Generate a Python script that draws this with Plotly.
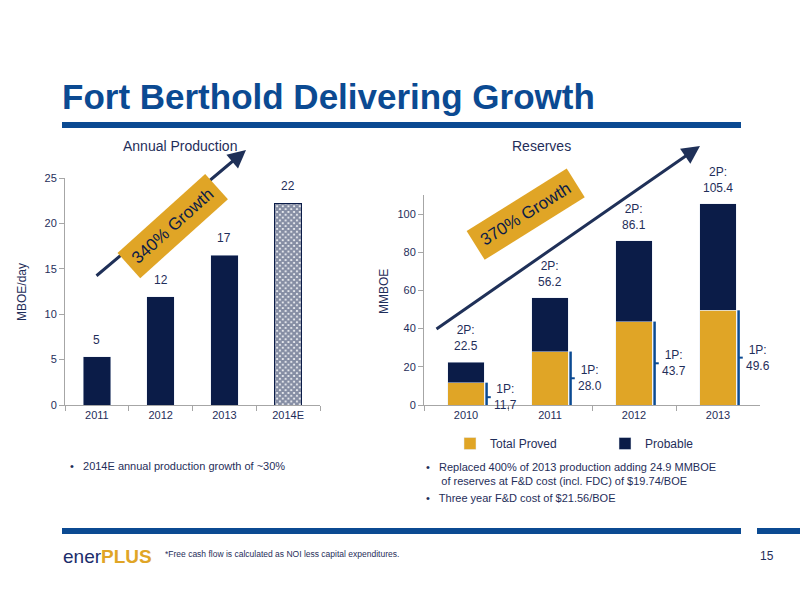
import plotly.graph_objects as go

prod_years = ["2011", "2012", "2013", "2014E"]
prod_values = [5.3, 11.9, 16.5, 22.2]
prod_labels = ["5", "12", "17", "22"]

res_years = ["2010", "2011", "2012", "2013"]
proved = [11.7, 28.0, 43.7, 49.6]
total_2p = [22.5, 56.2, 86.1, 105.4]
probable = [t - p for t, p in zip(total_2p, proved)]

NAVY = "#0B1C48"
GOLD = "#E0A526"
BLUE = "#0B4A92"
TXT = "#1F2E5A"
FONT = "Liberation Sans, Arial, sans-serif"

fig = go.Figure()
fig.add_trace(go.Bar(x=prod_years[:3], y=prod_values[:3], marker_color=NAVY, width=0.43,
                     showlegend=False, xaxis="x", yaxis="y"))
fig.add_trace(go.Bar(x=prod_years[3:], y=prod_values[3:], width=0.43, showlegend=False,
                     marker=dict(color="white", line=dict(color=NAVY, width=1),
                                 pattern=dict(shape="x", fgcolor=NAVY, bgcolor="white", size=4, solidity=0.8)),
                     xaxis="x", yaxis="y"))
fig.add_trace(go.Bar(x=res_years, y=proved, name="Total Proved", marker_color=GOLD, width=0.43,
                     xaxis="x2", yaxis="y2"))
fig.add_trace(go.Bar(x=res_years, y=probable, name="Probable", marker_color=NAVY, width=0.43,
                     xaxis="x2", yaxis="y2"))

ann = []
for i, (v, l) in enumerate(zip(prod_values, prod_labels)):
    ann.append(dict(x=i, y=v, xref="x", yref="y", text=l, showarrow=False, yshift=17,
                    font=dict(size=12, color=TXT)))
for i, t in enumerate(total_2p):
    ann.append(dict(x=i, y=t, xref="x2", yref="y2", text=f"2P:<br>{t:.1f}", showarrow=False,
                    yshift=24, font=dict(size=12, color=TXT)))

shapes = []
for i, p in enumerate(proved):
    bx = i + 0.245
    shapes.append(dict(type="line", xref="x2", yref="y2", x0=bx, x1=bx, y0=0, y1=p,
                       line=dict(color=BLUE, width=2.5)))
    ym = p / 2 if i else p * 0.35
    shapes.append(dict(type="line", xref="x2", yref="y2", x0=bx, x1=bx + 0.05, y0=ym, y1=ym,
                       line=dict(color=BLUE, width=2)))
    ann.append(dict(x=bx + 0.07, y=ym, xref="x2", yref="y2", text=f"1P:<br>{p:.1f}",
                    showarrow=False, xanchor="left", font=dict(size=12, color=TXT)))

def P(x, y):
    return x / 800, 1 - y / 600

for (x0, y0, x1, y1) in [(62, 122, 741, 128), (62, 528, 741, 534), (757, 528, 800, 534)]:
    a, b = P(x0, y0); c, d = P(x1, y1)
    shapes.append(dict(type="rect", xref="paper", yref="paper", x0=a, x1=c, y0=d, y1=b,
                       fillcolor=BLUE, line_width=0))

def txt(x, y, t, size=12, color=TXT, anchor="center", **kw):
    px, py = P(x, y)
    ann.append(dict(x=px, y=py, xref="paper", yref="paper", text=t, showarrow=False,
                    xanchor=anchor, yanchor="middle", font=dict(size=size, color=color, family=FONT), **kw))

txt(60, 97, "<b>Fort Berthold Delivering Growth</b>", 35, color=BLUE, anchor="left")
txt(180, 146, "Annual Production", 14)
txt(541, 146, "Reserves", 14)
txt(22, 292, "MBOE/day", 12, textangle=-90)
txt(384, 292, "MMBOE", 12, textangle=-90)
txt(68, 466, "•   2014E annual production growth of ~30%", 11, anchor="left")
txt(424, 474, "•   Replaced 400% of 2013 production adding 24.9 MMBOE<br>     of reserves at F&D cost (incl. FDC) of $19.74/BOE", 11, anchor="left", align="left")
txt(424, 498, "•   Three year F&D cost of $21.56/BOE", 11, anchor="left")
txt(61, 556, "<span style='color:#1B2D6B'>ener</span><b style='color:#E0A526'>PLUS</b>", 19, anchor="left")
txt(163, 554, "*Free cash flow is calculated as NOI less capital expenditures.", 8.5, anchor="left")
txt(776, 556, "15", 12, anchor="right")

for (x0, y0, x1, y1) in [(95, 277, 246, 150), (435, 330, 700, 146)]:
    c, d = P(x1, y1)
    ann.append(dict(x=c, y=d, ax=x0 - x1, ay=y0 - y1, xref="paper", yref="paper",
                    axref="pixel", ayref="pixel",
                    showarrow=True, arrowhead=2, arrowsize=1.2, arrowwidth=3, arrowcolor="#1F3058", text=""))
txt(172, 226, "340% Growth", 17, color=NAVY, textangle=-42, bgcolor=GOLD, borderpad=7)
txt(525, 214, "370% Growth", 17, color=NAVY, textangle=-32, bgcolor=GOLD, borderpad=7)

ax_common = dict(showline=True, linecolor="#A6A6A6", ticks="outside", tickcolor="#A6A6A6",
                 tickfont=dict(size=11, color=TXT), showgrid=False, zeroline=False, automargin=False)
fig.update_layout(
    width=800, height=600, margin=dict(l=0, r=0, t=0, b=0, pad=0, autoexpand=False),
    paper_bgcolor="white", plot_bgcolor="white", font=dict(family=FONT, color=TXT),
    barmode="stack", annotations=ann, shapes=shapes,
    xaxis=dict(domain=[65 / 800, 320 / 800], anchor="y", type="category", tickson="boundaries",
               range=[-0.5, 3.5], **ax_common),
    yaxis=dict(domain=[1 - 405 / 600, 1 - 178 / 600], range=[0, 25], dtick=5, anchor="x", **ax_common),
    xaxis2=dict(domain=[424 / 800, 760 / 800], anchor="y2", type="category", tickson="boundaries",
                range=[-0.5, 3.5], **ax_common),
    yaxis2=dict(domain=[1 - 405 / 600, 1 - 195 / 600], range=[0, 110], tickvals=[0, 20, 40, 60, 80, 100],
                anchor="x2", **ax_common),
    legend=dict(orientation="h", x=450 / 800, y=1 - 429 / 600, xanchor="left", yanchor="top",
                font=dict(size=12, color=TXT), traceorder="normal", entrywidth=110),
)
fig.write_html("out.html", config={"responsive": False, "displayModeBar": False},
               post_script="document.body.style.margin='0';")
